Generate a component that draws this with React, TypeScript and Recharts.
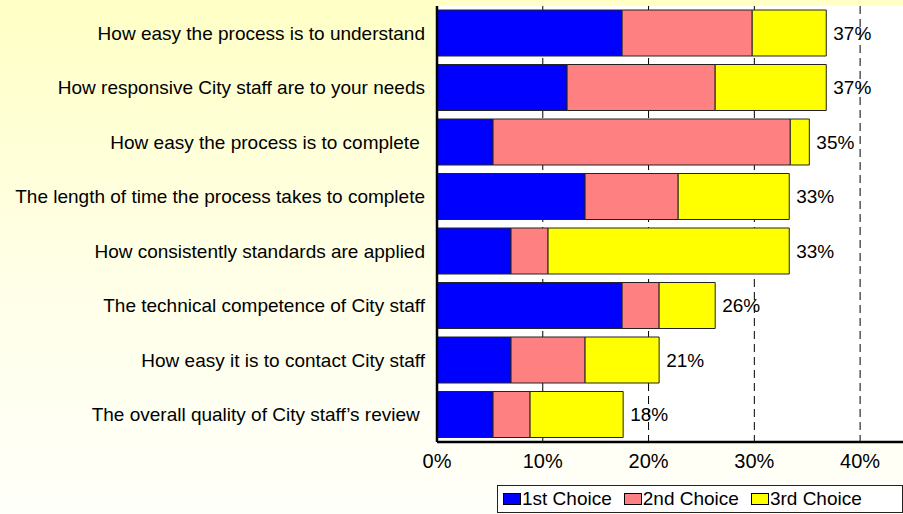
import * as React from "react"
import { BarChart, Bar, XAxis, YAxis, CartesianGrid, Legend, LabelList } from "recharts"

const categories = [
  "How easy the process is to understand",
  "How responsive City staff are to your needs",
  "How easy the process is to complete\u00a0",
  "The length of time the process takes to complete",
  "How consistently standards are applied",
  "The technical competence of City staff",
  "How easy it is to contact City staff",
  "The overall quality of City staff\u2019s review\u00a0",
]
const firstChoice = [17.5, 12.3, 5.3, 14.0, 7.0, 17.5, 7.0, 5.3]
const secondChoice = [12.3, 14.0, 28.1, 8.8, 3.5, 3.5, 7.0, 3.5]
const thirdChoice = [7.0, 10.5, 1.8, 10.5, 22.8, 5.3, 7.0, 8.8]
const totals = [37, 37, 35, 33, 33, 26, 21, 18]
const xTicks = [0, 10, 20, 30, 40]

const series = [
  { key: "first", name: "1st Choice", color: "#0000ff" },
  { key: "second", name: "2nd Choice", color: "#ff8080" },
  { key: "third", name: "3rd Choice", color: "#ffff00" },
]

const data = categories.map((name, i) => ({
  name,
  first: firstChoice[i],
  second: secondChoice[i],
  third: thirdChoice[i],
  total: totals[i],
}))

const FONT = "'Liberation Sans', Arial, sans-serif"

function BoxLegend() {
  return (
    <div
      style={{
        boxSizing: "border-box",
        width: 406,
        height: 28,
        border: "1.5px solid #222",
        background: "#fff",
        display: "flex",
        alignItems: "center",
        paddingLeft: 5,
        fontFamily: FONT,
        fontSize: 19,
        color: "#000",
      }}
    >
      {series.map((s) => (
        <div key={s.key} style={{ display: "flex", alignItems: "center", marginRight: 12 }}>
          <span
            style={{
              display: "inline-block",
              boxSizing: "border-box",
              width: 18,
              height: 12,
              background: s.color,
              border: "1px solid #000",
              marginRight: 1,
            }}
          />
          <span>{s.name}</span>
        </div>
      ))}
    </div>
  )
}

export default function App() {
  return (
    <div
      style={{
        position: "absolute",
        left: 0,
        top: 0,
        width: 903,
        height: 514,
        overflow: "hidden",
        background: "linear-gradient(to bottom, #ffffc6 0%, #ffffe6 50%, #fffffa 100%)",
      }}
    >
      <BarChart
        width={960}
        height={514}
        data={data}
        layout="vertical"
        margin={{ top: 6, right: 47, left: 0, bottom: 32 }}
        style={{ fontFamily: FONT }}
      >
        <CartesianGrid
          horizontal={false}
          vertical
          stroke="#000"
          strokeDasharray="8 5"
          fill="#fff"
          fillOpacity={1}
        />
        <XAxis
          type="number"
          domain={[0, 45]}
          ticks={xTicks}
          tickFormatter={(v) => `${v}%`}
          tick={{ fill: "#000", fontSize: 20 }}
          tickLine={false}
          tickSize={0}
          tickMargin={12}
          height={40}
          axisLine={{ stroke: "#000", strokeWidth: 2.5 }}
          allowDataOverflow
        />
        <XAxis
          xAxisId="top"
          orientation="top"
          type="number"
          domain={[0, 45]}
          tick={false}
          tickLine={false}
          height={0}
          axisLine={{ stroke: "#000", strokeWidth: 2.5 }}
        />
        <YAxis
          type="category"
          dataKey="name"
          width={437}
          tick={{ fill: "#000", fontSize: 19 }}
          tickLine={false}
          tickSize={0}
          tickMargin={12}
          interval={0}
          axisLine={{ stroke: "#000", strokeWidth: 2.5 }}
        />
        <Legend
          layout="horizontal"
          verticalAlign="middle"
          align="center"
          wrapperStyle={{ left: 497, top: 485, width: 406, height: 28 }}
          content={() => <BoxLegend />}
        />
        {series.map((s, idx) => (
          <Bar
            key={s.key}
            dataKey={s.key}
            name={s.name}
            stackId="a"
            fill={s.color}
            stroke="#222"
            strokeWidth={1}
            barSize={46}
            isAnimationActive={false}
          >
            {idx === series.length - 1 && (
              <LabelList
                dataKey="total"
                position="right"
                offset={7}
                formatter={(v: any) => `${v}%`}
                style={{ fill: "#000", fontSize: 19, fontFamily: FONT }}
              />
            )}
          </Bar>
        ))}
      </BarChart>
    </div>
  )
}
